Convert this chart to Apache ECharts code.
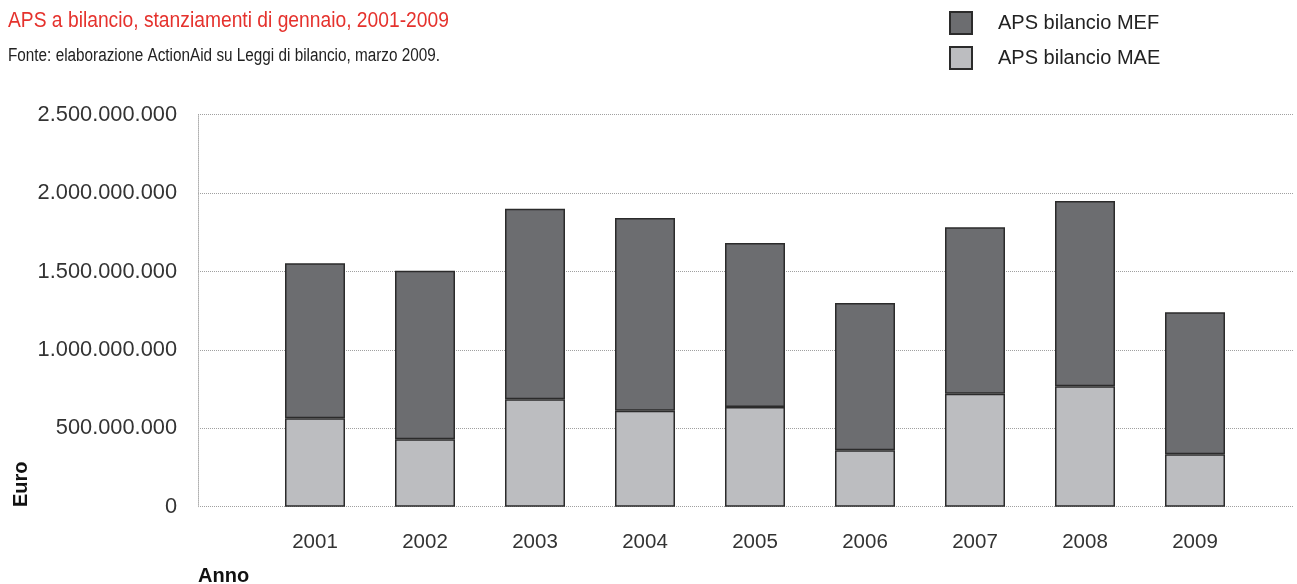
<!DOCTYPE html>
<html>
<head>
<meta charset="utf-8">
<script src="https://cdn.jsdelivr.net/npm/echarts@6/dist/echarts.min.js"></script>
<style>
  html, body { margin: 0; padding: 0; background: #fff; }
  #chart { width: 1297px; height: 584px; }
</style>
</head>
<body>
<div id="chart"></div>
<script>
// Anni di riferimento
const years = ['2001', '2002', '2003', '2004', '2005', '2006', '2007', '2008', '2009'];
// APS a bilancio MAE (euro)
const maeValues = [564000000, 430000000, 685000000, 612000000, 636000000, 360000000, 721000000, 768000000, 334000000];
// APS a bilancio MEF (euro)
const mefValues = [988000000, 1075000000, 1215000000, 1229000000, 1046000000, 939000000, 1061000000, 1182000000, 906000000];
// Etichette dell'asse verticale
const yTicks = [0, 500000000, 1000000000, 1500000000, 2000000000, 2500000000];

const FONT = '"Liberation Sans", Arial, sans-serif';
const fmt = v => v === 0 ? '0' : String(v).replace(/\B(?=(\d{3})+(?!\d))/g, '.');

const chart = echarts.init(document.getElementById('chart'));
chart.setOption({
  animation: false,
  textStyle: { fontFamily: FONT },
  legend: {
    data: ['APS bilancio MEF', 'APS bilancio MAE'],
    orient: 'vertical', left: 949, top: 11, padding: 0,
    itemWidth: 22, itemHeight: 22, itemGap: 11,
    icon: 'rect',
    textStyle: { fontSize: 20, color: '#222', padding: [0, 0, 0, 21], fontFamily: FONT }
  },
  grid: [
    { left: 198, right: 4, top: 114.7, bottom: 77.3 },
    { left: 260, right: 47, top: 114.7, bottom: 77.3 }
  ],
  xAxis: [
    { gridIndex: 0, type: 'category', data: years, show: false },
    { gridIndex: 1, type: 'category', data: years,
      axisLine: { show: false }, axisTick: { show: false },
      axisLabel: { fontSize: 20.5, color: '#333', margin: 25, fontFamily: FONT } }
  ],
  yAxis: [
    { gridIndex: 0, type: 'value', min: 0, max: 2500000000, interval: 500000000,
      axisLine: { show: true, lineStyle: { color: '#b0b0b0', type: [1, 1], width: 1 } },
      axisTick: { show: false },
      splitLine: { show: true, lineStyle: { color: '#a0a0a0', type: [1, 1], width: 1 } },
      axisLabel: { fontSize: 21.8, color: '#333', margin: 21, fontFamily: FONT,
        customValues: yTicks, formatter: fmt } },
    { gridIndex: 1, type: 'value', min: 0, max: 2500000000, interval: 500000000, show: false,
      splitLine: { show: false } }
  ],
  series: [
    { name: 'APS bilancio MAE', type: 'bar', stack: 'aps', xAxisIndex: 1, yAxisIndex: 1,
      barWidth: 60, data: maeValues,
      itemStyle: { color: '#bcbdc0', borderColor: '#2b2b2b', borderWidth: 1.5 } },
    { name: 'APS bilancio MEF', type: 'bar', stack: 'aps', xAxisIndex: 1, yAxisIndex: 1,
      barWidth: 60, data: mefValues,
      itemStyle: { color: '#6c6d70', borderColor: '#2b2b2b', borderWidth: 1.5 } }
  ],
  graphic: [
    // Titolo e fonte, compressi in orizzontale come un carattere condensato
    { type: 'text', x: 8, y: 10, scaleX: 0.875,
      style: { text: 'APS a bilancio, stanziamenti di gennaio, 2001-2009', fontSize: 22,
        fill: '#e5322d', fontFamily: FONT, align: 'left', verticalAlign: 'top' } },
    { type: 'text', x: 8, y: 47, scaleX: 0.85,
      style: { text: 'Fonte: elaborazione ActionAid su Leggi di bilancio, marzo 2009.', fontSize: 18,
        fill: '#222', fontFamily: FONT, align: 'left', verticalAlign: 'top' } },
    { type: 'text', x: 21, y: 507, rotation: Math.PI / 2,
      style: { text: 'Euro', fontSize: 20, fontWeight: 'bold', fill: '#111', fontFamily: FONT,
        align: 'left', verticalAlign: 'middle' } },
    { type: 'text', x: 198, y: 566,
      style: { text: 'Anno', fontSize: 20, fontWeight: 'bold', fill: '#111', fontFamily: FONT,
        align: 'left', verticalAlign: 'top' } }
  ]
});
</script>
</body>
</html>
